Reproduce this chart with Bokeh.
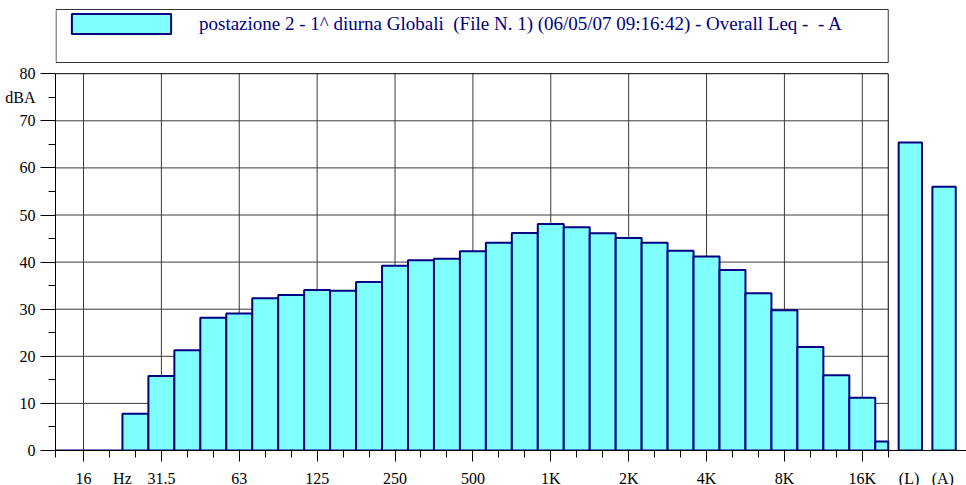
import numpy as np
from bokeh.plotting import figure
from bokeh.models import (Range1d, FixedTicker, Legend, LegendItem, ColumnDataSource,
                          LinearAxis, CustomLabelingPolicy)
from bokeh.embed import file_html
from bokeh.resources import INLINE

# ---- data ----
bands = ["12.5", "16", "20", "25", "31.5", "40", "50", "63", "80", "100", "125", "160",
         "200", "250", "315", "400", "500", "630", "800", "1K", "1.25K", "1.6K", "2K",
         "2.5K", "3.15K", "4K", "5K", "6.3K", "8K", "10K", "12.5K", "16K", "20K"]
levels = [0.0, 0.0, 0.0, 7.8, 15.8, 21.3, 28.2, 29.1, 32.3, 33.0, 34.1, 33.9,
          35.8, 39.2, 40.4, 40.7, 42.3, 44.1, 46.2, 48.1, 47.4, 46.1, 45.1,
          44.1, 42.4, 41.2, 38.3, 33.4, 29.8, 22.0, 16.0, 11.2, 1.9]
tick_labels = ["16", "31.5", "63", "125", "250", "500", "1K", "2K", "4K", "8K", "16K"]
overall_labels = ["(L)", "(A)"]
overall_levels = [65.4, 56.0]
y_ticks = [0, 10, 20, 30, 40, 50, 60, 70, 80]
y_unit = "dBA"
x_unit = "Hz"
title = "postazione 2 - 1^ diurna Globali  (File N. 1) (06/05/07 09:16:42) - Overall Leq -  - A"

# ---- layout ----
FONT = "Liberation Serif"
FILL = "#80FFFF"
EDGE = "#000080"
frame_w, frame_h = 911, 442
px_band = 25.96
px_db = 4.71
x0 = -28.0 / px_band
x1 = x0 + frame_w / px_band
ymax = frame_h / px_db
n = len(bands)
idx = np.arange(n) - 1            # 16 Hz -> 0
main_end = int(idx[-1])           # right border of the spectrum panel
ymain = y_ticks[-1]

p = figure(width=966, height=485, frame_width=frame_w, frame_height=frame_h,
           x_range=Range1d(x0, x1), y_range=Range1d(0, ymax),
           output_backend="svg", toolbar_location=None,
           min_border_left=55, min_border_right=0, min_border_top=8, min_border_bottom=35)
p.outline_line_color = None
p.xgrid.visible = False
p.ygrid.visible = False
p.background_fill_color = "white"
p.border_fill_color = "white"

# grid
majors = [int(i) for i in idx if i >= 0 and i % 3 == 0]
p.segment(x0=majors, y0=[0] * len(majors), x1=majors, y1=[ymain] * len(majors),
          line_color="#3a3a3a", line_width=1)
hy = y_ticks[1:-1]
p.segment(x0=[x0] * len(hy), y0=hy, x1=[main_end] * len(hy), y1=hy,
          line_color="#3a3a3a", line_width=1)
# frame of the spectrum panel
p.segment(x0=[x0, main_end], y0=[ymain, 0], x1=[main_end, main_end], y1=[ymain, ymain],
          line_color="black", line_width=1)

# bars
src = ColumnDataSource(dict(left=idx - 0.5, right=np.minimum(idx + 0.5, main_end),
                            top=levels, bottom=[0] * n))
bars = p.quad(left="left", right="right", top="top", bottom="bottom", source=src,
              fill_color=FILL, line_color=EDGE, line_width=2)

opos = [main_end + 0.85, main_end + 2.15]
p.vbar(x=opos, top=overall_levels, width=0.9, bottom=0,
       fill_color=FILL, line_color=EDGE, line_width=2)

# legend box
leg_top = ymax - 1 / px_db
leg_bot = ymax - 54 / px_db
p.quad(left=[x0 + 0.02], right=[main_end], top=[leg_top], bottom=[leg_bot],
       fill_color=None, line_color="#333333", line_width=1)

legend = Legend(items=[LegendItem(label=title, renderers=[bars])],
                location=(4, 414), padding=0, margin=0, spacing=0,
                glyph_width=124, glyph_height=25, label_standoff=16,
                label_text_font=FONT, label_text_font_size="19px",
                label_text_color=EDGE, border_line_color=None,
                background_fill_alpha=0)
p.add_layout(legend)

# policy that draws no labels (tick-only inner axes)
no_labels = CustomLabelingPolicy(
    code="for (let i = 0; i < indices.size; i++) { indices.unset(i) } return indices")

# ---- x axes: ticks (inner) + labels (outer) ----
xa = p.xaxis[0]
xa.ticker = FixedTicker(ticks=majors, minor_ticks=[x0] + [int(i) for i in idx if i >= 0])
xa.major_tick_out = 11
xa.major_tick_in = 0
xa.minor_tick_out = 7
xa.minor_tick_in = 0
xa.major_label_standoff = 0
xa.major_label_text_font_size = "1px"
xa.major_label_policy = no_labels
xa.axis_line_color = "black"
xa.major_tick_line_color = "black"
xa.minor_tick_line_color = "black"

xlab_pos = majors + [1.5] + [round(v - 0.05, 2) for v in opos]
xlab_txt = tick_labels + [x_unit] + overall_labels
xb = LinearAxis(ticker=FixedTicker(ticks=xlab_pos, minor_ticks=[]),
                major_label_overrides={v: t for v, t in zip(xlab_pos, xlab_txt)},
                axis_line_color=None, major_tick_line_color=None, minor_tick_line_color=None,
                major_tick_out=0, major_tick_in=0, major_label_standoff=4,
                major_label_text_font=FONT, major_label_text_font_size="16px",
                major_label_text_color="black")
p.add_layout(xb, "below")

# ---- y axes: ticks (inner) + labels (outer) ----
ya = p.yaxis[0]
ya.ticker = FixedTicker(ticks=y_ticks, minor_ticks=[t + 5 for t in y_ticks[:-1]])
ya.bounds = (0, ymain)
ya.major_tick_out = 15
ya.major_tick_in = 0
ya.minor_tick_out = 7
ya.minor_tick_in = 0
ya.major_label_standoff = 0
ya.major_label_text_font_size = "1px"
ya.major_label_policy = CustomLabelingPolicy(code=no_labels.code)
ya.axis_line_color = "black"

ylab_pos = y_ticks + [75]
ylab_txt = [str(t) for t in y_ticks] + [y_unit]
yb = LinearAxis(ticker=FixedTicker(ticks=ylab_pos, minor_ticks=[]),
                major_label_overrides={v: t for v, t in zip(ylab_pos, ylab_txt)},
                axis_line_color=None, major_tick_line_color=None, minor_tick_line_color=None,
                major_tick_out=0, major_tick_in=0, major_label_standoff=1,
                major_label_text_font=FONT, major_label_text_font_size="16px",
                major_label_text_color="black")
p.add_layout(yb, "left")

open("out.html", "w").write(file_html(p, INLINE))
